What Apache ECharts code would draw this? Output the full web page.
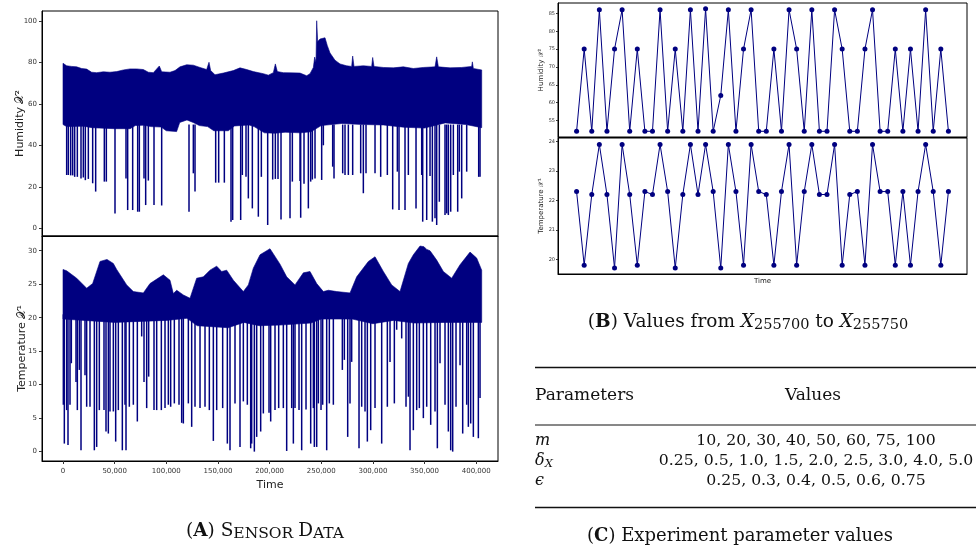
<!DOCTYPE html>
<html>
<head>
<meta charset="utf-8">
<script src="https://cdn.jsdelivr.net/npm/echarts@6/dist/echarts.min.js"></script>
<style>
  html, body { margin: 0; padding: 0; background: #fff; }
  #main { width: 978px; height: 551px; }
</style>
</head>
<body>
<div id="main"></div>
<script>
// ---- (A) sensor data: band envelopes ----
var humHighT = [0, 3550, 8390, 13230, 18070, 22910, 27750, 32590, 39040, 45500, 51950, 58410, 64860, 71320, 77770, 82610, 87450, 93260, 95520, 103590, 108430, 113270, 119720, 126170, 132630, 139080, 141340, 142950, 147150, 155220, 164900, 171350, 177810, 184260, 193940, 198780, 203620, 205560, 207500, 213300, 219760, 229440, 235890, 239120, 242350, 243640, 244930, 245580, 246540, 248800, 253640, 255900, 258480, 263320, 268160, 274610, 279450, 280420, 281710, 290750, 298820, 299790, 301080, 310120, 319800, 329480, 339150, 348840, 360130, 361740, 363360, 374650, 385950, 395630, 396270, 397240, 405310];
var humHigh = [79.5, 78.3, 78, 77.8, 77, 76.7, 75.2, 75, 75.4, 75.2, 75.5, 76.3, 76.8, 76.8, 76.5, 75.2, 75, 78.2, 75.4, 75.2, 76, 77.8, 78.8, 78.6, 77.5, 76.5, 80, 76, 74, 74.8, 76, 77.3, 76.5, 75.5, 74.5, 73.8, 75, 79.2, 75.5, 75, 74.9, 74.8, 73.5, 74.5, 77.5, 82.5, 80, 100, 90, 91.2, 91.8, 88, 84.5, 81, 79.2, 78.3, 78, 83, 78, 78.3, 78, 82.3, 78, 77.5, 77.3, 77.8, 77, 77.5, 77.8, 82.6, 77.8, 77.3, 77.5, 78, 80.2, 77, 76.3];
var humLowT = [0, 3550, 20000, 28000, 35000, 50000, 65000, 70000, 78000, 85000, 95000, 100000, 110000, 113000, 120000, 126000, 132000, 140000, 146000, 160000, 166000, 180000, 185000, 195000, 205000, 215000, 230000, 240000, 250000, 270000, 290000, 310000, 330000, 350000, 370000, 390000, 405310];
var humLow = [50, 49, 49.2, 48.5, 48.3, 48, 48, 49.5, 49.7, 49, 48.8, 47, 46.6, 51, 52.2, 51, 49.5, 49, 47, 47, 49.3, 49.8, 49, 46, 45.8, 46.3, 46, 46.5, 49.5, 50.5, 50, 49.8, 48.7, 48.3, 50.8, 50, 48.5];
var humSpikeT = [3550, 5160, 7420, 9360, 11290, 13880, 17430, 19680, 21620, 24530, 28720, 31620, 40010, 41950, 50340, 60990, 62600, 67440, 72290, 73900, 78420, 80030, 82610, 88100, 95520, 121980, 126170, 127790, 147800, 150700, 156190, 162640, 164260, 172000, 173610, 177160, 179420, 183290, 189100, 192010, 198140, 202980, 205560, 208140, 211050, 219760, 222020, 229440, 230090, 233310, 237510, 239770, 241380, 243960, 250410, 252030, 261060, 262350, 270750, 273000, 276230, 280420, 288170, 290750, 293330, 302050, 307530, 313980, 319150, 323670, 325280, 331090, 334320, 341740, 347230, 348200, 352070, 355300, 357560, 360130, 361740, 364320, 369810, 371430, 373040, 375300, 377880, 382080, 383690, 385950, 390790, 402410, 403700];
var humSpikeMin = [25.7, 25.7, 25.5, 25.5, 24.8, 24.8, 24, 24.5, 23.2, 23.8, 21.7, 17.7, 22.5, 22.5, 7.2, 24, 8.8, 8.8, 8, 8, 24, 11.2, 23, 11.2, 11, 8, 26.5, 17.7, 22, 22, 22, 3.2, 4, 4, 25.7, 24.8, 14.4, 9.6, 5.6, 24.8, 1.6, 23.5, 23.8, 23.8, 4.3, 4.8, 22.5, 22.8, 5.1, 21.5, 9.6, 22.5, 23.5, 24, 23.3, 40, 29.7, 24, 26.5, 25.7, 25.7, 25.7, 26.5, 16.9, 26.5, 26.5, 24.8, 25.7, 9.1, 27.3, 8.8, 8.8, 25.7, 9.6, 25.7, 3.2, 4, 25.2, 3.2, 4.8, 1.6, 12.8, 6.4, 7.2, 6.4, 8, 25.7, 8, 27.3, 14.4, 27.3, 24.8, 24.8];

var tmpHighT = [0, 3550, 13230, 22910, 28720, 35820, 42600, 48730, 51950, 61630, 68090, 77770, 84220, 97130, 103590, 106810, 110040, 116490, 122950, 129400, 135860, 142310, 148770, 153610, 158450, 164900, 174580, 179420, 184260, 190720, 200400, 210080, 216530, 224600, 232660, 239120, 245580, 252030, 256870, 264940, 277840, 284300, 295590, 302050, 310120, 318180, 326250, 334320, 339150, 345610, 349480, 352070, 355300, 361740, 368200, 376270, 384340, 394020, 400470, 405310];
var tmpHigh = [27.2, 27, 25.9, 24.4, 25.1, 28.4, 28.7, 28.1, 27.2, 24.9, 23.9, 23.7, 25.1, 26.4, 25.6, 23.6, 24.1, 23.4, 22.9, 25.9, 26.1, 27.1, 27.7, 26.9, 27.1, 25.6, 23.9, 24.9, 27.4, 29.4, 30.3, 28.0, 26.1, 24.9, 26.7, 26.9, 25.1, 23.9, 24.1, 23.9, 23.7, 26.1, 28.4, 29.1, 26.9, 24.9, 23.9, 28.1, 29.4, 30.7, 30.6, 30.2, 30, 28.6, 26.9, 25.9, 27.9, 29.8, 28.9, 27.1];
var tmpLowT = [0, 50000, 100000, 120000, 130000, 160000, 175000, 190000, 210000, 240000, 250000, 280000, 300000, 320000, 340000, 370000, 405310];
var tmpLow = [19.8, 19.3, 19.6, 19.9, 18.8, 18.5, 19.3, 18.8, 18.9, 19.2, 19.8, 19.8, 19.1, 19.6, 19.2, 19.3, 19.3];
var tmpSpikeT = [320, 1290, 3550, 4840, 6780, 8070, 12590, 13880, 15810, 17430, 21300, 22910, 26140, 30330, 32590, 35170, 39690, 41630, 43890, 45500, 48730, 50990, 53570, 57440, 60020, 60990, 64220, 68090, 71960, 76160, 78420, 81000, 82940, 88100, 90680, 95200, 98750, 101970, 104230, 107780, 112300, 114880, 116490, 121340, 124560, 127790, 132630, 137470, 141660, 145540, 148770, 154570, 159090, 161670, 166510, 171350, 174580, 178450, 181680, 182650, 185230, 187490, 191360, 193940, 199430, 201040, 205240, 208790, 213300, 216530, 221370, 223000, 224600, 228470, 231050, 235250, 239770, 242350, 243320, 245580, 247190, 249770, 251380, 255260, 257840, 261710, 270420, 272360, 275590, 277840, 279450, 286560, 289140, 292370, 294630, 297860, 302050, 308500, 313980, 316570, 320760, 323020, 327860, 332050, 334320, 335930, 339150, 342380, 344960, 348840, 352070, 355940, 360130, 362390, 364970, 369810, 373040, 375300, 377240, 380460, 384340, 386920, 390790, 392400, 394660, 397240, 402080, 403700];
var tmpSpikeMin = [7.0, 1.2, 6.2, 1.0, 7.0, 13.2, 10.4, 6.2, 12.2, 0.2, 11.4, 6.7, 6.7, 0.2, 0.7, 6.2, 6.2, 3.0, 2.7, 6.0, 6.0, 1.5, 6.2, 0.2, 7.0, 0.2, 6.7, 7.0, 4.5, 17.2, 10.4, 6.5, 11.2, 6.2, 6.2, 6.2, 6.5, 7.0, 6.7, 7.2, 7.0, 4.3, 4.2, 7.2, 3.7, 6.7, 6.5, 6.7, 6.2, 1.6, 6.2, 6.5, 1.2, 0.2, 7.2, 0.7, 7.5, 7.0, 0.5, 1.2, 0, 2.2, 3.0, 5.7, 5.8, 4.5, 6.2, 6.5, 6.5, 0.1, 6.5, 1.2, 6.5, 6.2, 0.2, 6.3, 1.2, 6.5, 0.7, 0.7, 7.2, 6.2, 7.0, 0.2, 7.2, 7.0, 12.2, 13.7, 2.2, 7.2, 13.4, 0.5, 6.7, 6.0, 1.5, 3.2, 6.5, 1.2, 6.7, 13.4, 7.2, 18.2, 16.9, 6.7, 8.2, 0.2, 3.2, 6.2, 6.5, 5.0, 6.7, 4.0, 6.0, 0.5, 13.2, 7.0, 3.0, 0.2, 0, 6.7, 12.9, 2.7, 7.0, 3.7, 4.2, 2.2, 2.0, 8.0];

var timeTicks = [0, 50000, 100000, 150000, 200000, 250000, 300000, 350000, 400000];
var humTicks = [0, 20, 40, 60, 80, 100];
var tmpTicks = [0, 5, 10, 15, 20, 25, 30];

// ---- (B) values from X255700 to X255750 ----
var zoomHum = [52, 75, 52, 86, 52, 75, 86, 52, 75, 52, 52, 86, 52, 75, 52, 86, 52, 86.3, 52, 62, 86, 52, 75, 86, 52, 52, 75, 52, 86, 75, 52, 86, 52, 52, 86, 75, 52, 52, 75, 86, 52, 52, 75, 52, 75, 52, 86, 52, 75, 52];
var zoomTmp = [22.3, 19.8, 22.2, 23.9, 22.2, 19.7, 23.9, 22.2, 19.8, 22.3, 22.2, 23.9, 22.3, 19.7, 22.2, 23.9, 22.2, 23.9, 22.3, 19.7, 23.9, 22.3, 19.8, 23.9, 22.3, 22.2, 19.8, 22.3, 23.9, 19.8, 22.3, 23.9, 22.2, 22.2, 23.9, 19.8, 22.2, 22.3, 19.8, 23.9, 22.3, 22.3, 19.8, 22.3, 19.8, 22.3, 23.9, 22.3, 19.8, 22.3];
var zoomHumTicks = [55, 60, 65, 70, 75, 80, 85];
var zoomTmpTicks = [20, 21, 22, 23, 24];

// ---- (C) parameter table ----
var paramValues = [
  '10, 20, 30, 40, 50, 60, 75, 100',
  '0.25, 0.5, 1.0, 1.5, 2.0, 2.5, 3.0, 4.0, 5.0',
  '0.25, 0.3, 0.4, 0.5, 0.6, 0.75'
];

var NAVY = '#000080';
var SANS = 'DejaVu Sans';
var SERIF = 'DejaVu Serif';

var chart = echarts.init(document.getElementById('main'), null, {renderer: 'canvas'});

function pairs(xs, ys) {
  return xs.map(function (x, i) { return [x, ys[i]]; });
}

// filled band between upper and lower envelope
function band(idx, hiT, hi, loT, lo) {
  return {
    type: 'custom', xAxisIndex: idx, yAxisIndex: idx, silent: true,
    data: [[hiT[0], hi[0]]],
    renderItem: function (params, api) {
      var pts = [];
      for (var i = 0; i < hiT.length; i++) pts.push(api.coord([hiT[i], hi[i]]));
      for (var j = loT.length - 1; j >= 0; j--) pts.push(api.coord([loT[j], lo[j]]));
      return {type: 'polygon', shape: {points: pts}, style: {fill: NAVY, stroke: NAVY, lineWidth: 0.6}};
    }
  };
}

// downward drop-outs below the band
function spikes(idx, ts, mins, top) {
  return {
    type: 'custom', xAxisIndex: idx, yAxisIndex: idx, silent: true,
    data: pairs(ts, mins),
    renderItem: function (params, api) {
      var p1 = api.coord([api.value(0), top]);
      var p2 = api.coord([api.value(0), api.value(1)]);
      return {type: 'line', shape: {x1: p1[0], y1: p1[1], x2: p2[0], y2: p2[1]},
        style: {stroke: NAVY, lineWidth: 1.5}};
    }
  };
}

function yAx(idx, min, max, ticks, name, fs, gap, nfs) {
  return {
    gridIndex: idx, type: 'value', min: min, max: max,
    name: name, nameLocation: 'middle', nameGap: gap, nameRotate: 90, nameMoveOverlap: false,
    nameTextStyle: {fontFamily: SANS, fontSize: nfs, color: '#222'},
    axisLine: {show: true, onZero: false, lineStyle: {color: '#000', width: 1}},
    axisTick: {show: true, length: fs < 6 ? 2 : 3, customValues: ticks, lineStyle: {color: '#333'}},
    axisLabel: {show: true, customValues: ticks, fontFamily: SANS, fontSize: fs, color: '#333', margin: fs < 6 ? 3 : 5},
    splitLine: {show: false}
  };
}

var xCommon = {
  type: 'value', min: -20330, max: 421100,
  axisLine: {show: true, onZero: false, lineStyle: {color: '#000', width: 1}},
  splitLine: {show: false}
};

var grids = [
  {left: 42, top: 11, width: 456, height: 225},
  {left: 42, top: 236, width: 456, height: 225},
  {left: 558, top: 3, width: 409, height: 134},
  {left: 558, top: 138, width: 409, height: 136}
].map(function (g) {
  g.show = true; g.borderColor = '#000'; g.borderWidth = 1; g.backgroundColor = '#fff';
  return g;
});

var option = {
  animation: false,
  backgroundColor: '#fff',
  grid: grids,
  xAxis: [
    Object.assign({gridIndex: 0, axisTick: {show: false}, axisLabel: {show: false}}, xCommon),
    Object.assign({gridIndex: 1,
      name: 'Time', nameLocation: 'middle', nameGap: 19, nameMoveOverlap: false,
      nameTextStyle: {fontFamily: SANS, fontSize: 11, color: '#222'},
      axisTick: {show: true, length: 3, customValues: timeTicks, lineStyle: {color: '#333'}},
      axisLabel: {show: true, customValues: timeTicks, fontFamily: SANS, fontSize: 7, color: '#333', margin: 7,
        formatter: function (v) { return v.toLocaleString('en-US'); }}
    }, xCommon),
    {gridIndex: 2, type: 'value', min: -2.45, max: 51.45,
      axisLine: {show: true, onZero: false, lineStyle: {color: '#000'}},
      axisTick: {show: false}, axisLabel: {show: false}, splitLine: {show: false}},
    {gridIndex: 3, type: 'value', min: -2.45, max: 51.45,
      name: 'Time', nameLocation: 'middle', nameGap: 4, nameMoveOverlap: false,
      nameTextStyle: {fontFamily: SANS, fontSize: 7, color: '#222'},
      axisLine: {show: true, onZero: false, lineStyle: {color: '#000'}},
      axisTick: {show: false}, axisLabel: {show: false}, splitLine: {show: false}}
  ],
  yAxis: [
    yAx(0, -3.7, 104.7, humTicks, 'Humidity 𝒳²', 7, 16, 11),
    yAx(1, -1.4, 32.2, tmpTicks, 'Temperature 𝒳¹', 7, 14, 11),
    yAx(2, 50.4, 87.9, zoomHumTicks, 'Humidity 𝒳²', 5, 13, 7),
    yAx(3, 19.5, 24.12, zoomTmpTicks, 'Temperature 𝒳¹', 5, 13, 7)
  ],
  series: [
    band(0, humHighT, humHigh, humLowT, humLow),
    spikes(0, humSpikeT, humSpikeMin, 50),
    band(1, tmpHighT, tmpHigh, tmpLowT, tmpLow),
    spikes(1, tmpSpikeT, tmpSpikeMin, 20.5),
    {type: 'line', xAxisIndex: 2, yAxisIndex: 2,
      data: zoomHum.map(function (v, i) { return [i, v]; }),
      symbol: 'circle', symbolSize: 5, showSymbol: true,
      lineStyle: {color: NAVY, width: 1}, itemStyle: {color: NAVY}},
    {type: 'line', xAxisIndex: 3, yAxisIndex: 3,
      data: zoomTmp.map(function (v, i) { return [i, v]; }),
      symbol: 'circle', symbolSize: 5, showSymbol: true,
      lineStyle: {color: NAVY, width: 1}, itemStyle: {color: NAVY}}
  ],
  graphic: [
    // caption A
    {type: 'text', x: 265, y: 531, style: {
      text: '{n|(}{b|A}{n|) S}{s|ENSOR }{n|D}{s|ATA}',
      align: 'center', verticalAlign: 'middle',
      rich: {
        n: {fontFamily: SERIF, fontSize: 18.5, lineHeight: 22, fill: '#111'},
        b: {fontFamily: SERIF, fontSize: 18.5, lineHeight: 22, fontWeight: 'bold', fill: '#111'},
        s: {fontFamily: SERIF, fontSize: 15.5, lineHeight: 22, verticalAlign: 'bottom', fill: '#111'}
      }}},
    // caption B
    {type: 'text', x: 748, y: 322, style: {
      text: '{n|(}{b|B}{n|) Values from }{i|X}{sub|255700}{n| to }{i|X}{sub|255750}',
      align: 'center', verticalAlign: 'middle',
      rich: {
        n: {fontFamily: SERIF, fontSize: 18.5, lineHeight: 22, fill: '#111'},
        b: {fontFamily: SERIF, fontSize: 18.5, lineHeight: 22, fontWeight: 'bold', fill: '#111'},
        i: {fontFamily: SERIF, fontSize: 18.5, lineHeight: 22, fontStyle: 'italic', fill: '#111'},
        sub: {fontFamily: SERIF, fontSize: 14.5, lineHeight: 10, verticalAlign: 'bottom', fill: '#111'}
      }}},
    // table C rules
    {type: 'line', shape: {x1: 535, y1: 367.5, x2: 976, y2: 367.5}, style: {stroke: '#111', lineWidth: 1.6}},
    {type: 'line', shape: {x1: 535, y1: 425, x2: 976, y2: 425}, style: {stroke: '#111', lineWidth: 1}},
    {type: 'line', shape: {x1: 535, y1: 507.5, x2: 976, y2: 507.5}, style: {stroke: '#111', lineWidth: 1.6}},
    {type: 'text', x: 535, y: 396, style: {text: 'Parameters', font: '17px "' + SERIF + '"', fill: '#111', align: 'left', verticalAlign: 'middle'}},
    {type: 'text', x: 813, y: 396, style: {text: 'Values', font: '17px "' + SERIF + '"', fill: '#111', align: 'center', verticalAlign: 'middle'}},
    {type: 'text', x: 535, y: 441, style: {text: '{i|m}', align: 'left', verticalAlign: 'middle',
      rich: {i: {fontFamily: SERIF, fontSize: 16, fontStyle: 'italic', fill: '#111'}}}},
    {type: 'text', x: 535, y: 461, style: {text: '{i|δ}{sub|X}', align: 'left', verticalAlign: 'middle',
      rich: {i: {fontFamily: SERIF, fontSize: 16, lineHeight: 18, fontStyle: 'italic', fill: '#111'},
        sub: {fontFamily: SERIF, fontSize: 11.5, lineHeight: 8, verticalAlign: 'bottom', fontStyle: 'italic', fill: '#111'}}}},
    {type: 'text', x: 535, y: 481, style: {text: '{i|ϵ}', align: 'left', verticalAlign: 'middle',
      rich: {i: {fontFamily: SERIF, fontSize: 16, fontStyle: 'italic', fill: '#111'}}}},
    {type: 'text', x: 816, y: 441, style: {text: paramValues[0], font: '15.7px "' + SERIF + '"', fill: '#111', align: 'center', verticalAlign: 'middle'}},
    {type: 'text', x: 816, y: 461, style: {text: paramValues[1], font: '15.7px "' + SERIF + '"', fill: '#111', align: 'center', verticalAlign: 'middle'}},
    {type: 'text', x: 816, y: 481, style: {text: paramValues[2], font: '15.7px "' + SERIF + '"', fill: '#111', align: 'center', verticalAlign: 'middle'}},
    // caption C
    {type: 'text', x: 740, y: 536, style: {
      text: '{n|(}{b|C}{n|) Experiment parameter values}',
      align: 'center', verticalAlign: 'middle',
      rich: {
        n: {fontFamily: SERIF, fontSize: 18, fill: '#111'},
        b: {fontFamily: SERIF, fontSize: 18, fontWeight: 'bold', fill: '#111'}
      }}}
  ]
};

chart.setOption(option);
</script>
</body>
</html>
